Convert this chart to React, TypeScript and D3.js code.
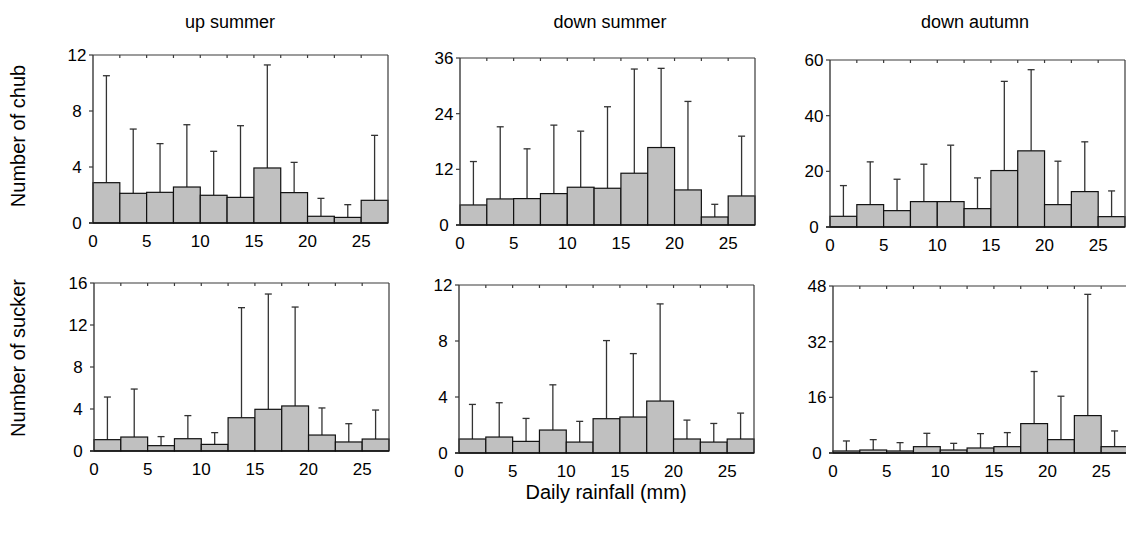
import React from "react";
import * as d3 from "d3";

const binStarts = [0, 2.5, 5, 7.5, 10, 12.5, 15, 17.5, 20, 22.5, 25];
const xTicks = [0, 5, 10, 15, 20, 25];

const titles = ["up summer", "down summer", "down autumn"];
const rowLabels = ["Number of chub", "Number of sucker"];

const upSummerChubMean = [2.88, 2.12, 2.19, 2.57, 1.98, 1.83, 3.93, 2.17, 0.48, 0.4, 1.62];
const upSummerChubErr = [10.52, 6.71, 5.67, 7.02, 5.12, 6.95, 11.29, 4.33, 1.76, 1.31, 6.26];
const downSummerChubMean = [4.32, 5.62, 5.69, 6.77, 8.14, 7.92, 11.16, 16.7, 7.56, 1.73, 6.26];
const downSummerChubErr = [13.68, 21.17, 16.42, 21.53, 20.23, 25.49, 33.62, 33.77, 26.64, 4.46, 19.15];
const downAutumnChubMean = [3.84, 8.04, 5.88, 9.12, 9.12, 6.6, 20.28, 27.36, 8.04, 12.72, 3.72];
const downAutumnChubErr = [14.88, 23.4, 17.16, 22.56, 29.4, 17.64, 52.32, 56.52, 23.64, 30.6, 12.96];

const upSummerSuckerMean = [1.08, 1.33, 0.51, 1.17, 0.63, 3.17, 3.97, 4.29, 1.52, 0.86, 1.14];
const upSummerSuckerErr = [5.14, 5.9, 1.37, 3.37, 1.75, 13.65, 14.95, 13.71, 4.1, 2.6, 3.9];
const downSummerSuckerMean = [1.0, 1.14, 0.83, 1.64, 0.78, 2.45, 2.57, 3.71, 1.0, 0.78, 1.0];
const downSummerSuckerErr = [3.47, 3.59, 2.47, 4.87, 2.26, 8.03, 7.1, 10.65, 2.35, 2.11, 2.85];
const downAutumnSuckerMean = [0.58, 0.86, 0.58, 1.82, 0.86, 1.44, 1.82, 8.45, 3.84, 10.75, 1.82];
const downAutumnSuckerErr = [3.46, 3.84, 2.98, 5.66, 2.78, 5.57, 5.86, 23.42, 16.32, 45.6, 6.34];

const yTicks1 = [0, 4, 8, 12];
const yTicks2 = [0, 12, 24, 36];
const yTicks3 = [0, 20, 40, 60];
const yTicks4 = [0, 4, 8, 12, 16];
const yTicks5 = [0, 4, 8, 12];
const yTicks6 = [0, 16, 32, 48];

const panels = [
  { mean: upSummerChubMean, err: upSummerChubErr, ticks: yTicks1, x0: 93, x1: 388, y0: 55, y1: 223 },
  { mean: downSummerChubMean, err: downSummerChubErr, ticks: yTicks2, x0: 460, x1: 755, y0: 58, y1: 225 },
  { mean: downAutumnChubMean, err: downAutumnChubErr, ticks: yTicks3, x0: 830, x1: 1125, y0: 60, y1: 227 },
  { mean: upSummerSuckerMean, err: upSummerSuckerErr, ticks: yTicks4, x0: 94, x1: 389, y0: 283, y1: 451 },
  { mean: downSummerSuckerMean, err: downSummerSuckerErr, ticks: yTicks5, x0: 459, x1: 754, y0: 285, y1: 453 },
  { mean: downAutumnSuckerMean, err: downAutumnSuckerErr, ticks: yTicks6, x0: 833, x1: 1128, y0: 286, y1: 453 },
];

const FONT = "Liberation Sans, Arial, Helvetica, sans-serif";
const AXIS = "#3a3a3a";

function Panel({ p }: { p: typeof panels[number] }) {
  const x = d3.scaleLinear().domain([0, 27.5]).range([p.x0, p.x1]);
  const y = d3.scaleLinear().domain([0, p.ticks[p.ticks.length - 1]]).range([p.y1, p.y0]);
  const w = 2.5;
  return (
    <g>
      {binStarts.map((b, i) => (
        <g key={i}>
          <line x1={x(b + w / 2)} x2={x(b + w / 2)} y1={y(p.mean[i])} y2={y(p.err[i])} stroke="#333" strokeWidth={1.3} />
          <line x1={x(b + w / 2) - 3.5} x2={x(b + w / 2) + 3.5} y1={y(p.err[i])} y2={y(p.err[i])} stroke="#333" strokeWidth={1.3} />
          <rect x={x(b)} y={y(p.mean[i])} width={x(b + w) - x(b)} height={y(0) - y(p.mean[i])} fill="#c0c0c0" stroke="#111" strokeWidth={1.2} />
        </g>
      ))}
      <line x1={p.x0} x2={p.x1} y1={p.y0} y2={p.y0} stroke={AXIS} strokeWidth={1.2} />
      <line x1={p.x1} x2={p.x1} y1={p.y0} y2={p.y1} stroke={AXIS} strokeWidth={1.2} />
      <line x1={p.x0} x2={p.x0} y1={p.y0} y2={p.y1} stroke={AXIS} strokeWidth={1.4} />
      <line x1={p.x0 - 4} x2={p.x1} y1={p.y1} y2={p.y1} stroke="#111" strokeWidth={1.4} />
      {binStarts.slice(1).map((b, i) => (
        <line key={i} x1={x(b)} x2={x(b)} y1={p.y0} y2={p.y0 + 3} stroke={AXIS} strokeWidth={1.2} />
      ))}
      {p.ticks.map((t, i) => (
        <g key={i}>
          <line x1={p.x0 - 4} x2={p.x0} y1={y(t)} y2={y(t)} stroke={AXIS} strokeWidth={1.2} />
          <text x={p.x0 - 16} y={y(t) + 6} textAnchor="middle" fontSize={17} fontFamily={FONT} fill="#000">{t}</text>
        </g>
      ))}
      {xTicks.map((t, i) => (
        <text key={i} x={x(t)} y={p.y1 + 24} textAnchor="middle" fontSize={17} fontFamily={FONT} fill="#000">{t}</text>
      ))}
    </g>
  );
}

export default function App() {
  const titleX = [230, 610, 975];
  return (
    <svg width={1126} height={533} style={{ display: "block", position: "absolute", left: 0, top: 0 }}>
      <rect width={1126} height={533} fill="#fff" />
      {titles.map((t, i) => (
        <text key={i} x={titleX[i]} y={28} textAnchor="middle" fontSize={18} fontFamily={FONT} fill="#000">{t}</text>
      ))}
      <text transform="translate(25,136) rotate(-90)" textAnchor="middle" fontSize={20} fontFamily={FONT} fill="#000">{rowLabels[0]}</text>
      <text transform="translate(25,358) rotate(-90)" textAnchor="middle" fontSize={20} fontFamily={FONT} fill="#000">{rowLabels[1]}</text>
      {panels.map((p, i) => (
        <Panel key={i} p={p} />
      ))}
      <text x={606} y={499} textAnchor="middle" fontSize={20} fontFamily={FONT} fill="#000">Daily rainfall (mm)</text>
    </svg>
  );
}
